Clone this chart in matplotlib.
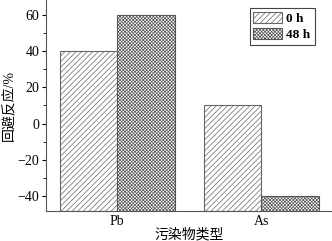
import matplotlib
matplotlib.use("Agg")
import matplotlib.pyplot as plt
import numpy as np

# data
categories = ["Pb", "As"]
series_names = ["0 h", "48 h"]
values_0h = [40, 10]
values_48h = [60, -40]
y_ticks = [-40, -20, 0, 20, 40, 60]

plt.rcParams['font.family'] = ['Liberation Serif', 'Noto Sans CJK SC']
plt.rcParams['hatch.linewidth'] = 0.5

fig = plt.figure(figsize=(3.32, 2.41), dpi=100)
ax = fig.add_axes([0.139, 0.125, 0.86, 0.875])

ymin, ymax = -48, 68
x = np.arange(1, len(categories) + 1)
w = 0.4

ax.bar(x - w / 2, np.array(values_0h) - ymin, w, bottom=ymin, color="white",
       edgecolor="#666666", hatch="//////", linewidth=0.8, label=series_names[0])
ax.bar(x + w / 2, np.array(values_48h) - ymin, w, bottom=ymin, color="white",
       edgecolor="#555555", hatch="xxxxxxxxxx", linewidth=0.8, label=series_names[1])

ax.set_xlim(0.507, 2.49)
ax.set_ylim(ymin, ymax)
ax.set_xticks(x)
ax.set_xticklabels(categories, fontsize=10)
ax.set_yticks(y_ticks)
ax.set_yticks(np.arange(-40, 70, 10), minor=True)
ax.tick_params(axis="y", labelsize=10, direction="out", length=3, width=0.8, pad=2)
ax.tick_params(axis="y", which="minor", length=2, width=0.6)
ax.tick_params(axis="x", length=0, pad=3)

for s in ["top", "right"]:
    ax.spines[s].set_visible(False)
for s in ["left", "bottom"]:
    ax.spines[s].set_color("#555555")
    ax.spines[s].set_linewidth(0.8)

ax.set_xlabel("污染物类型", fontsize=10, labelpad=0)
ax.set_ylabel("回避反应/%", fontsize=10, labelpad=1)

leg = ax.legend(loc="upper right", bbox_to_anchor=(0.94, 0.962),
                fancybox=False, edgecolor="#444444", framealpha=1,
                handlelength=2.2, handleheight=0.9, borderpad=0.3,
                labelspacing=0.2, handletextpad=0.3, borderaxespad=0,
                prop={"weight": "bold", "size": 9.5})
leg.get_frame().set_linewidth(0.8)

fig.savefig("out.png", dpi=100)
